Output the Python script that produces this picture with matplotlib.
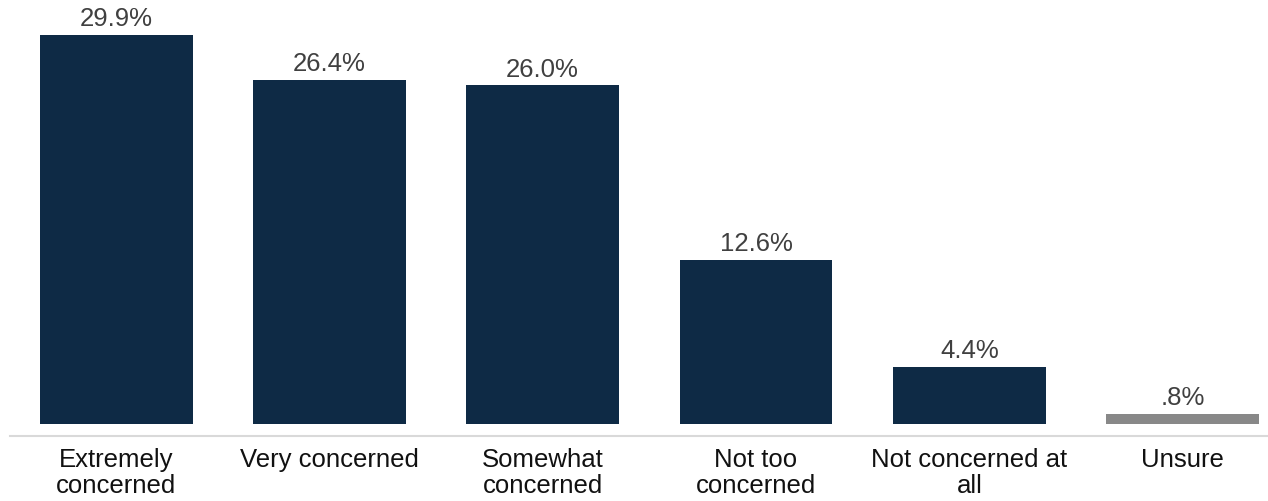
import numpy as np
import matplotlib.pyplot as plt

plt.rcParams['font.family'] = ['Liberation Sans', 'DejaVu Sans']

categories = ['Extremely\nconcerned', 'Very concerned', 'Somewhat\nconcerned',
              'Not too\nconcerned', 'Not concerned at\nall', 'Unsure']
values = [29.9, 26.4, 26.0, 12.6, 4.4, 0.8]
labels = ['29.9%', '26.4%', '26.0%', '12.6%', '4.4%', '.8%']
colors = ['#0e2a45'] * 5 + ['#888888']

fig = plt.figure(figsize=(12.68, 5.02), dpi=100)
ax = fig.add_axes([10 / 1268, 65 / 502, 1258 / 1268, 437 / 502])

x = np.arange(len(categories))
bars = ax.bar(x, values, width=0.717, color=colors)

for b, lab in zip(bars, labels):
    ax.annotate(lab, (b.get_x() + b.get_width() / 2, b.get_height()),
                xytext=(0, 3.5), textcoords='offset points',
                ha='center', va='bottom', fontsize=18.5, color='#404040')

ax.set_xlim(-0.497, 5.4)
ax.set_ylim(-12 / 13.02, 425 / 13.02)
ax.set_xticks(x)
ax.set_xticklabels(categories, fontsize=18.5, color='#111111', linespacing=1.1)
ax.tick_params(axis='x', length=0, pad=8)
ax.set_yticks([])
for s in ['top', 'right', 'left']:
    ax.spines[s].set_visible(False)
ax.spines['bottom'].set_color('#d9d9d9')
ax.spines['bottom'].set_linewidth(1.5)

plt.savefig('out.png', dpi=100)
